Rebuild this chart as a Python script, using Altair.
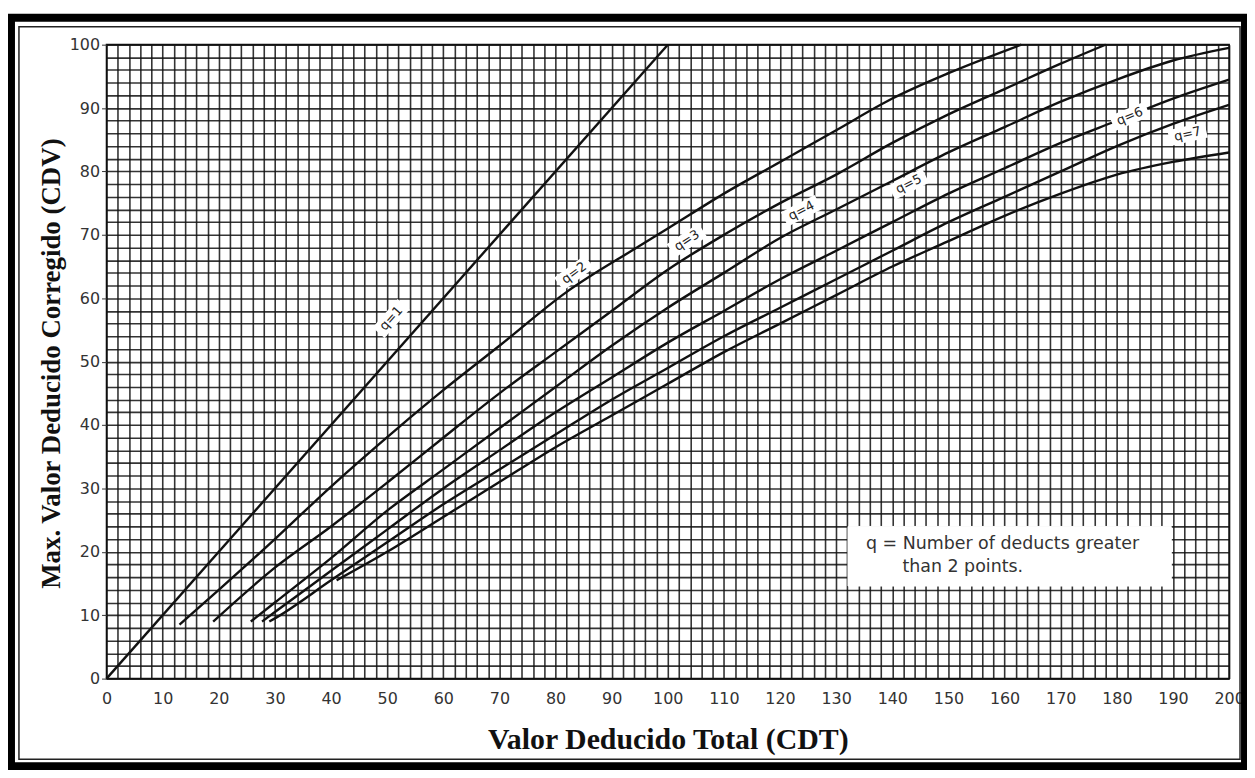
import altair as alt
import pandas as pd

# ---------------- data ----------------
q_names = ["q=1", "q=2", "q=3", "q=4", "q=5", "q=6", "q=7"]

tdv_q1 = [0, 100]
cdv_q1 = [0, 100]

tdv_q2 = [13, 20, 30, 40, 52, 60, 70, 82, 94.5, 100, 110, 120, 130, 140, 150, 163]
cdv_q2 = [8.5, 14, 22, 30.3, 39.6, 45.5, 52.5, 61, 68, 71, 76.5, 81.5, 86.5, 91.5, 95.5, 100]

tdv_q3 = [19, 30, 40, 50.7, 60, 70, 80, 90, 100, 110, 120, 130, 140, 150, 160, 170, 178]
cdv_q3 = [9, 17.5, 24, 31.4, 38, 45, 51.5, 58, 64.5, 70, 75, 79.5, 84.5, 89, 93, 97, 100]

tdv_q4 = [25.7, 30, 40, 50, 60, 70, 80, 90, 100, 110, 120, 130, 140, 150, 160, 170, 180, 190, 200]
cdv_q4 = [9, 12, 19, 26.5, 33, 39.5, 46, 52.5, 58.5, 64, 69.5, 74, 78.5, 83, 87, 91, 94.5, 97.5, 99.5]

tdv_q5 = [27.7, 30, 40, 50, 60, 70, 80, 90, 100, 110, 120, 130, 140, 150, 160, 170, 180, 190, 200]
cdv_q5 = [9, 10.5, 17, 23.5, 30, 36, 42, 47.5, 53, 58, 63, 67.5, 72, 76.5, 80.5, 84.5, 88, 91.5, 94.5]

tdv_q6 = [29, 30, 40, 50, 60, 70, 80, 90, 100, 110, 120, 130, 140, 150, 160, 170, 180, 190, 200]
cdv_q6 = [9, 9.5, 15.5, 21.5, 27.5, 33, 38.5, 44, 49, 54, 58.5, 63, 67.5, 72, 76, 80, 84, 87.5, 90.5]

tdv_q7 = [41, 50, 60, 70, 80, 90, 100, 110, 120, 130, 140, 150, 160, 170, 180, 190, 200]
cdv_q7 = [15.5, 20, 25.5, 31, 36.5, 41.5, 46.5, 51.5, 56, 60.5, 65, 69, 73, 76.5, 79.5, 81.5, 83]

# curve labels ("q=n" tags placed along the curves)
label_x = [50.7, 83.3, 103.4, 123.8, 142.9, 182.3, 192.6]
label_y = [56.8, 64.0, 69.1, 73.8, 78.0, 88.7, 85.9]
label_angle = [311.5, 323.7, 326.8, 333, 333.6, 337.3, 347]

# explanatory note box
note_lines = ["q = Number of deducts greater", "than 2 points."]
note_x = [135.3, 141.8]
note_y = [21.2, 17.6]
note_box_x = [132.1, 189.7]
note_box_y = [14.6, 24.0]

x_tick_values = list(range(0, 201, 2))
y_tick_values = list(range(0, 101, 2))

# ---------------- tables ----------------
curve_data = {
    "q=1": (tdv_q1, cdv_q1),
    "q=2": (tdv_q2, cdv_q2),
    "q=3": (tdv_q3, cdv_q3),
    "q=4": (tdv_q4, cdv_q4),
    "q=5": (tdv_q5, cdv_q5),
    "q=6": (tdv_q6, cdv_q6),
    "q=7": (tdv_q7, cdv_q7),
}
rows = []
for q in q_names:
    xs, ys = curve_data[q]
    for i, (a, b) in enumerate(zip(xs, ys)):
        rows.append({"TDV": a, "CDV": b, "q": q, "order": i})
curves_df = pd.DataFrame(rows)

labels_df = pd.DataFrame({"TDV": label_x, "CDV": label_y, "angle": label_angle, "txt": q_names})
note_df = pd.DataFrame({"TDV": note_x, "CDV": note_y, "txt": note_lines})
box_df = pd.DataFrame({"TDV": [note_box_x[0]], "TDV2": [note_box_x[1]],
                       "CDV": [note_box_y[0]], "CDV2": [note_box_y[1]]})
dummy_df = pd.DataFrame({"d": [0]})

# ---------------- scales / axes ----------------
xscale = alt.Scale(domain=[0, 200], nice=False, zero=False)
yscale = alt.Scale(domain=[0, 100], nice=False, zero=False)

x_axis = alt.Axis(
    values=x_tick_values,
    labelExpr="datum.value % 10 === 0 ? datum.label : ''",
    labelOverlap=False, labelFlush=False,
    tickSize=0, labelPadding=12, domain=False,
    labelFont="DejaVu Sans", labelFontSize=16, labelColor="#333",
    title="Valor Deducido Total (CDT)",
    titleFont="Liberation Serif", titleFontSize=30, titleFontWeight="bold",
    titleColor="#111", titleY=46, titleBaseline="top",
)
y_axis = alt.Axis(
    values=y_tick_values,
    labelExpr="datum.value % 10 === 0 ? datum.label : ''",
    labelOverlap=False, labelFlush=False,
    tickSize=5,
    tickColor={"condition": {"test": "datum.value % 10 === 0", "value": "#333"}, "value": "transparent"},
    labelPadding=2, domain=False,
    labelFont="DejaVu Sans", labelFontSize=16, labelColor="#333",
    title="Max. Valor Deducido Corregido (CDV)",
    titleFont="Liberation Serif", titleFontSize=27, titleFontWeight="bold",
    titleColor="#111", titleAngle=270, titleAlign="center", titleBaseline="alphabetic",
    titleX=-47, titleY=320,
)


def X(field="TDV"):
    return alt.X(f"{field}:Q", scale=xscale, axis=x_axis)


def Y(field="CDV"):
    return alt.Y(f"{field}:Q", scale=yscale, axis=y_axis)


lines = alt.Chart(curves_df).mark_line(color="#111", strokeWidth=2.4, interpolate="monotone").encode(
    x=X(), y=Y(), detail="q:N", order="order:Q"
)

tag_shape = "M-1,-0.42L1,-0.42L1,0.42L-1,0.42Z"
tags = alt.Chart(labels_df).mark_point(shape=tag_shape, filled=True, fill="white", opacity=1,
                                      size=1450, strokeWidth=0).encode(
    x=X(), y=Y(), angle=alt.Angle("angle:Q", scale=None)
)
tag_text = alt.Chart(labels_df).mark_text(font="DejaVu Sans", fontSize=13, color="#222",
                                         align="center", baseline="middle").encode(
    x=X(), y=Y(), angle=alt.Angle("angle:Q", scale=None), text="txt:N"
)

note_box = alt.Chart(box_df).mark_rect(fill="white", stroke="white").encode(
    x=X(), x2="TDV2:Q", y=Y(), y2="CDV2:Q"
)
note_text = alt.Chart(note_df).mark_text(font="DejaVu Sans", fontSize=17.5, color="#333",
                                        align="left", baseline="middle").encode(
    x=X(), y=Y(), text="txt:N"
)

# decorative page frame (outside the plot area)
bottom_mask = alt.Chart(dummy_df).mark_rect(fill="white").encode(
    x=alt.value(-100), x2=alt.value(1150), y=alt.value(718), y2=alt.value(730)
)
outer_frame = alt.Chart(dummy_df).mark_rect(fill="transparent", stroke="black", strokeWidth=8).encode(
    x=alt.value(-96), x2=alt.value(1144), y=alt.value(-27), y2=alt.value(725)
)
inner_frame = alt.Chart(dummy_df).mark_rect(fill="transparent", stroke="#222", strokeWidth=1.5).encode(
    x=alt.value(-88), x2=alt.value(1139), y=alt.value(-18), y2=alt.value(718)
)

chart = alt.layer(
    lines, note_box, note_text, tags, tag_text, bottom_mask, outer_frame, inner_frame
).properties(
    width=1128, height=637,
    autosize=alt.AutoSizeParams(type="none"),
    padding={"left": 99, "top": 35, "right": 18, "bottom": 90},
    background="white",
).configure_axis(
    grid=True, gridColor="#111", gridWidth=1.6, gridOpacity=0.85,
).configure_view(
    stroke="#111", strokeWidth=1.6
)

chart.save("out.html", embed_options={"renderer": "svg", "actions": False})
